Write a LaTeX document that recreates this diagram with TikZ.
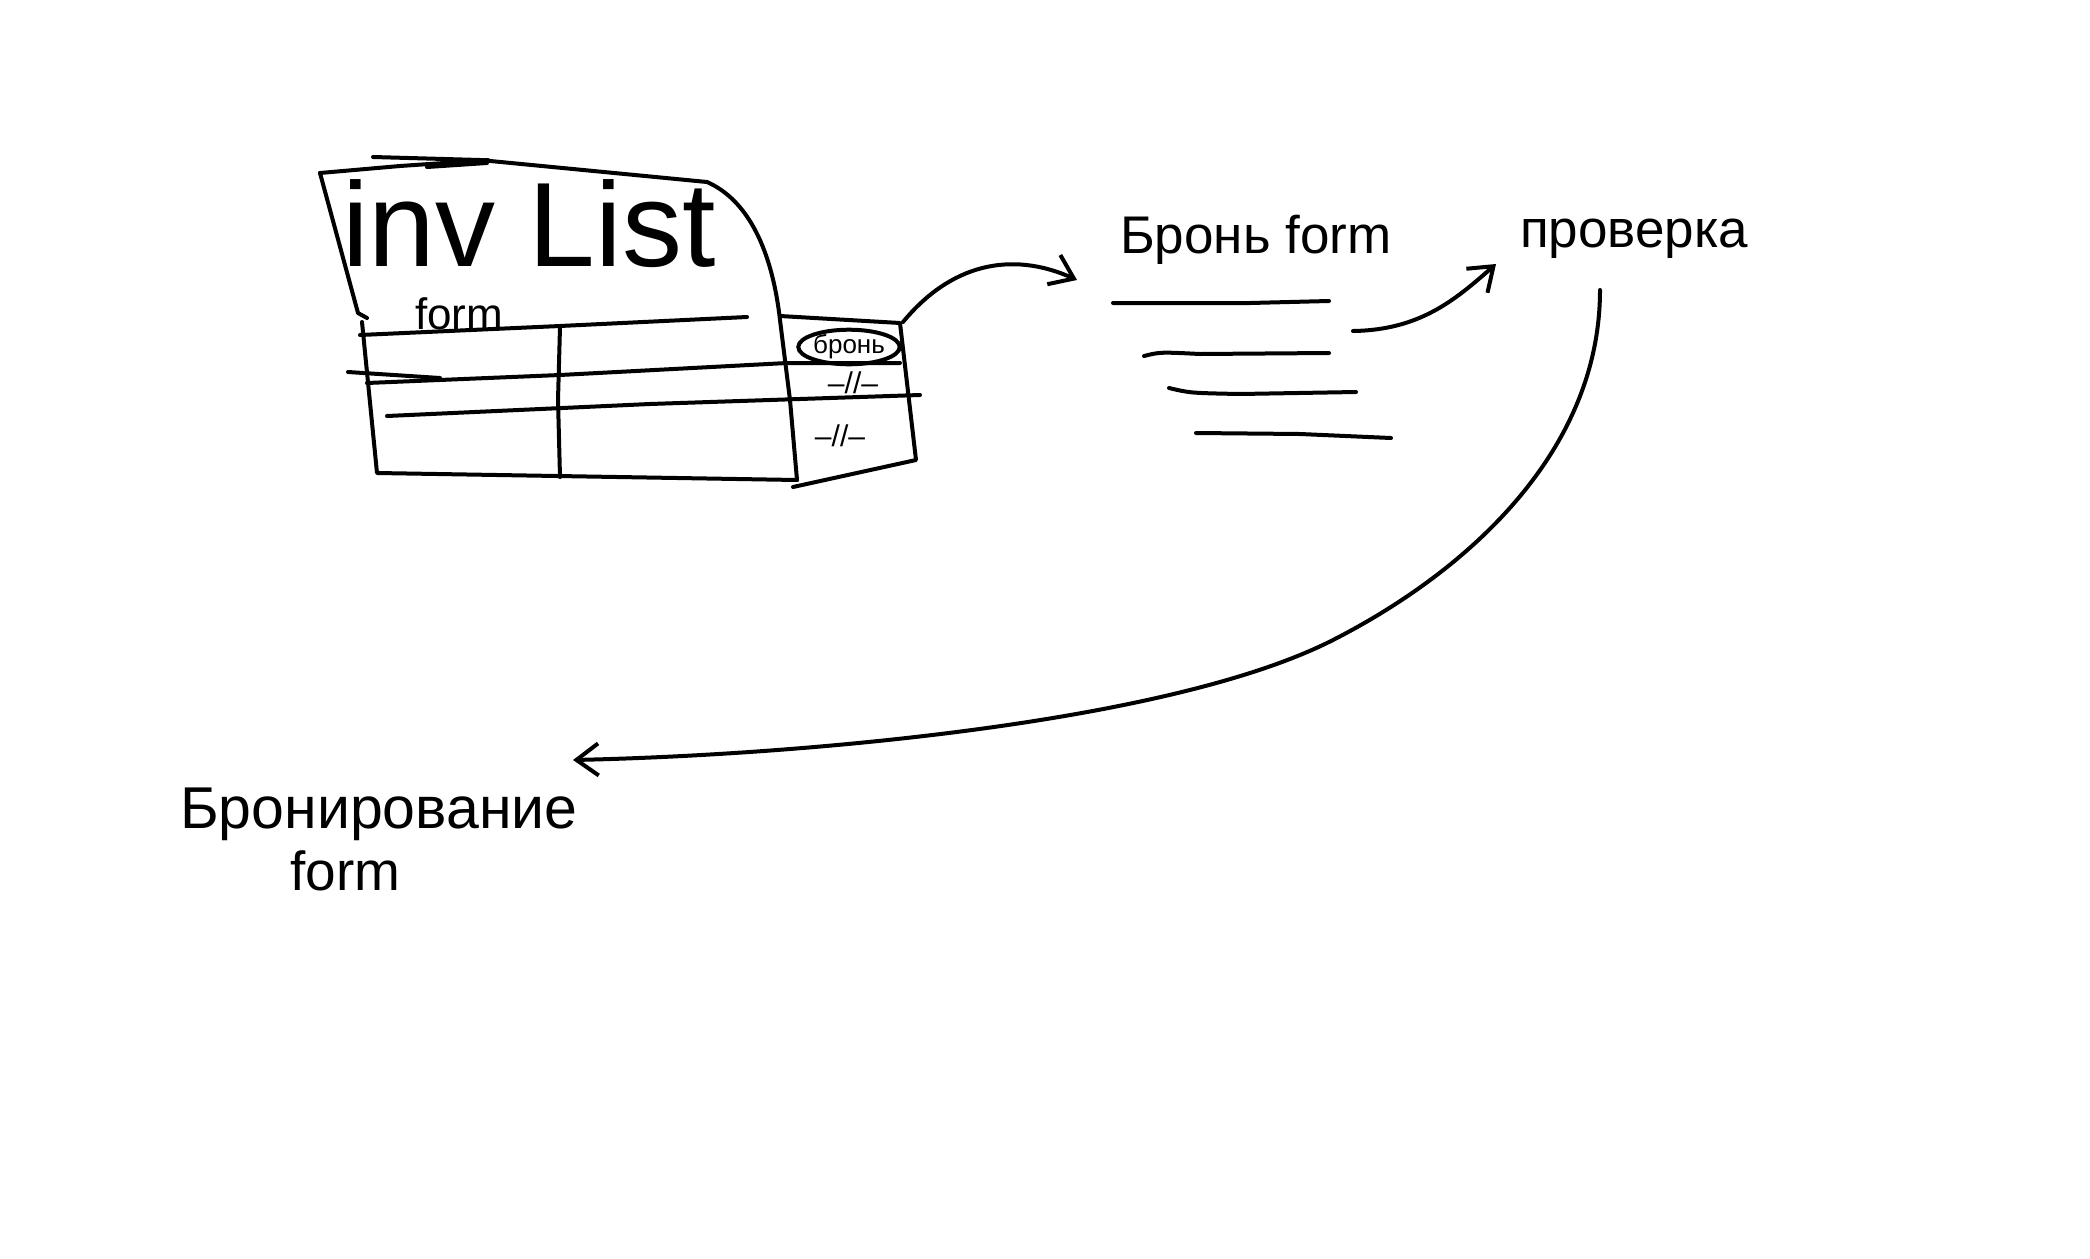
\documentclass[tikz,border=0pt]{standalone}
\usepackage{fontspec}
\setmainfont{Liberation Sans}
\usetikzlibrary{arrows.meta,shapes.geometric}
\begin{document}
\begin{tikzpicture}[x=1pt,y=-1pt,
  pen/.style={draw=black, line width=4pt, line cap=round, line join=round},
  txt/.style={inner sep=0pt, anchor=base west},
  barb/.style={pen, -{Straight Barb[length=22pt,width=32pt,line width=4pt]}}
]
\useasboundingbox[fill=white] (0,0) rectangle (2090,1258);

% ---- inv List table ----
\draw[pen] (320,173) -- (400,166) -- (488,160);
\draw[pen] (427,167) -- (487,163);
\draw[pen] (373,157) -- (480,160) -- (707,182)
  .. controls (748,200) and (772,250) .. (780,320) -- (790,400) -- (797,480);
\draw[pen] (320,173) -- (358,313) -- (367,318);
\draw[pen] (362,322) -- (377,473) -- (797,480);
\draw[pen] (360,335) -- (560,326) -- (747,317);
\draw[pen] (367,383) -- (560,375) -- (787,363) -- (900,363);
\draw[pen] (348,372) -- (440,378);
\draw[pen] (387,416) -- (650,404) -- (920,395);
\draw[pen] (560,327) -- (558,400) -- (560,477);
% side box
\draw[pen] (780,316) -- (900,323) -- (916,460) -- (793,487);

\node[txt, font=\fontsize{120}{120}\selectfont] (title) at (342,266) {inv List};
\node[txt, font=\fontsize{44}{44}\selectfont] (formlbl) at (415,329) {form};
\node[draw, ellipse, line width=4pt, inner sep=0pt,
  font=\fontsize{26}{26}\selectfont] (oval) at (849,347) {бронь};
\node[font=\fontsize{30}{30}\selectfont, inner sep=0pt] (same1) at (853,383) {–//–};
\node[font=\fontsize{30}{30}\selectfont, inner sep=0pt] (same2) at (840,436) {–//–};

% ---- Бронь form ----
\node[txt, font=\fontsize{53}{53}\selectfont] (bronform) at (1120,253) {Бронь form};
\draw[pen] (1113,303) -- (1250,303) -- (1329,301);
\draw[pen] (1144,356) .. controls (1160,352) .. (1200,354) -- (1329,353);
\draw[pen] (1169,388) .. controls (1190,393) .. (1240,394) -- (1356,392);
\draw[pen] (1196,433) -- (1300,434) -- (1391,438);

% ---- проверка ----
\node[txt, font=\fontsize{53}{53}\selectfont] (prov) at (1520,247) {проверка};

% ---- Бронирование form ----
\node[txt, font=\fontsize{59}{59}\selectfont] (bronir) at (180,828) {Бронирование};
\node[txt, font=\fontsize{55}{55}\selectfont] (bronirform) at (290,890) {form};

% ---- connectors ----
\coordinate (a1s) at (903,322);
\coordinate (a1e) at (1077,280);
\coordinate (a2s) at (1353,331);
\coordinate (a2e) at (1496,264);
\coordinate (a3s) at (1600,290);
\coordinate (a3m) at (1333,640);
\coordinate (a3e) at (573,760);

\draw[barb] (a1s) .. controls (950,265) and (1010,250) .. (a1e);
\draw[barb] (a2s) .. controls (1420,330) and (1455,300) .. (a2e);
\draw[barb] (a3s) .. controls (1600,450) and (1470,570) .. (a3m)
  .. controls (1170,723) and (800,755) .. (a3e);
\end{tikzpicture}
\end{document}
